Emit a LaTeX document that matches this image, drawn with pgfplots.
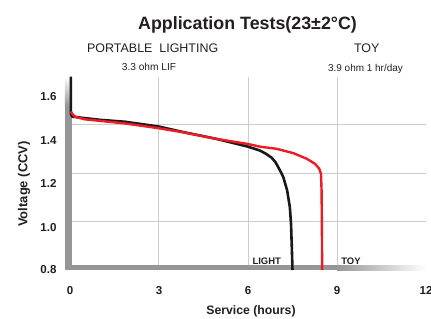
\documentclass[border=0pt]{standalone}
\usepackage{pgfplots}
\pgfplotsset{compat=1.18}
\usepackage{fontspec}
\setmainfont{Liberation Sans}
\definecolor{barg}{RGB}{150,150,153}
\definecolor{gridg}{RGB}{205,205,205}
\definecolor{cred}{RGB}{237,28,36}
\definecolor{txt}{RGB}{35,31,32}
\definecolor{cblk}{RGB}{25,25,25}
\begin{document}
\begin{tikzpicture}[x=1bp,y=1bp]
\begin{axis}[
  at={(0,0)}, anchor=south west,
  scale only axis, width=356bp, height=193.5bp,
  xmin=0, xmax=12, ymin=0.8, ymax=1.6,
  clip=false,
  axis line style={draw=none},
  major tick length=0pt,
  /pgf/number format/assume math mode=true,
  xtick={0,3,6,9,12},
  xticklabels={0,3,6,9,12},
  ytick={0.8,0.976,1.156,1.334,1.517},
  yticklabels={0.8,1.0,1.2,1.4,1.6},
  extra x ticks={3,6,9}, extra x tick labels={},
  extra x tick style={grid=major},
  extra y ticks={1.0,1.2,1.4}, extra y tick labels={},
  extra y tick style={grid=major},
  major grid style={gridg, line width=1bp},
  ticklabel style={font=\bfseries\fontsize{11.6}{13}\selectfont, text=txt},
  xticklabel style={yshift=-13bp},
  yticklabel style={xshift=-10bp},
]
% axis bars
\fill[barg] (axis cs:-0.169,0.8) rectangle (axis cs:0.057,1.48);
\shade[top color=white, bottom color=barg] (axis cs:-0.169,1.48) rectangle (axis cs:0.057,1.6);
\fill[barg] (axis cs:-0.169,0.8) rectangle (axis cs:9.0,0.8206);
\shade[left color=barg, right color=white] (axis cs:9.0,0.8) rectangle (axis cs:12.0,0.8206);
% LIGHT (black)
\addplot[cblk, line width=2.6bp, line join=round] coordinates {
(0.03,1.60) (0.03,1.445) (0.08,1.434) (0.5,1.428) (1.0,1.421) (1.85,1.413)
(3.0,1.393) (3.71,1.373) (4.94,1.342) (6.0,1.310) (6.4,1.294) (6.6,1.281)
(6.8,1.264) (6.93,1.245) (7.02,1.225) (7.12,1.202) (7.19,1.184) (7.32,1.129)
(7.41,1.060) (7.45,0.992) (7.48,0.882) (7.5,0.80)
};
% TOY (red)
\addplot[cred, line width=2.4bp, line join=round] coordinates {
(0.03,1.455) (0.08,1.445) (0.17,1.434) (0.5,1.423) (1.85,1.406) (3.0,1.386)
(3.82,1.369) (4.94,1.342) (6.0,1.321) (6.4,1.310) (6.97,1.301) (7.53,1.283)
(7.98,1.260) (8.26,1.239) (8.4,1.219) (8.46,1.198) (8.48,1.129) (8.49,0.992)
(8.5,0.80)
};
\end{axis}
\node[anchor=base, text=txt, font=\bfseries\fontsize{17.9}{20}\selectfont] at (177.5,240.7) {Application Tests(23±2°C)};
\node[anchor=base, text=txt, font=\fontsize{12.5}{14}\selectfont] at (82.7,217.3) {PORTABLE\ \ LIGHTING};
\node[anchor=base, text=txt, font=\fontsize{10.2}{12}\selectfont] at (79,199.3) {3.3 ohm LIF};
\node[anchor=base, text=txt, font=\fontsize{12.5}{14}\selectfont] at (296.7,217.3) {TOY};
\node[anchor=base, text=txt, font=\fontsize{10}{12}\selectfont] at (295.5,199) {3.9 ohm 1 hr/day};
\node[anchor=base, text=txt, font=\bfseries\fontsize{12.3}{14}\selectfont] at (181,-44) {Service (hours)};
\node[rotate=90, text=txt, font=\bfseries\fontsize{13}{15}\selectfont] at (-46,86) {Voltage (CCV)};
\node[text=txt, font=\bfseries\fontsize{9.5}{11}\selectfont] at (196.7,9) {LIGHT};
\node[text=txt, font=\bfseries\fontsize{9.5}{11}\selectfont] at (281,9) {TOY};
\pgfresetboundingbox
\path[use as bounding box] (-70,-49) rectangle (361,270);
\end{tikzpicture}
\end{document}
